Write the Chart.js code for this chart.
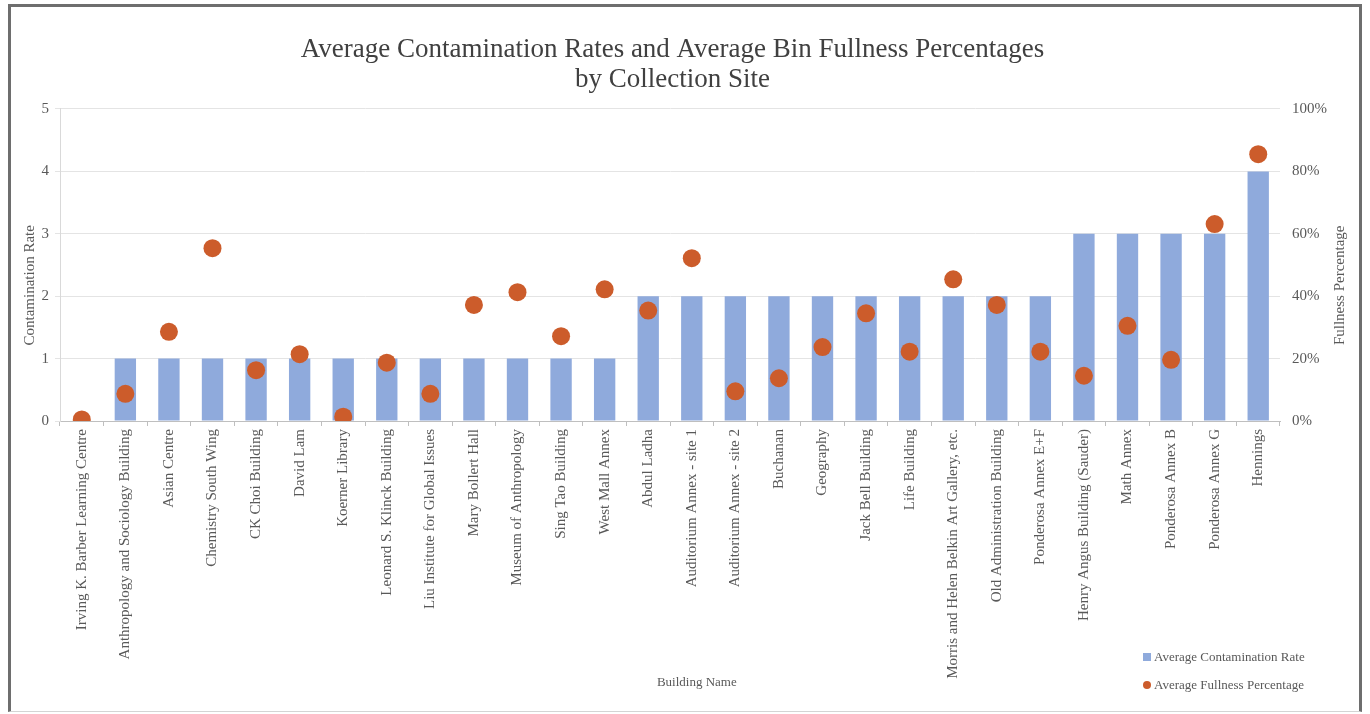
<!DOCTYPE html>
<html><head><meta charset="utf-8">
<script src="https://cdn.jsdelivr.net/npm/chart.js@4"></script>
<style>
html,body{margin:0;padding:0;background:#fff;}
#wrap{position:relative;width:1370px;height:714px;overflow:hidden;background:#fff;}
#frame{position:absolute;left:8px;top:4px;width:1348px;height:704px;border-left:3px solid #6e6e6e;border-top:3px solid #6e6e6e;border-right:3px solid #6e6e6e;border-bottom:1px solid #d4d4d4;pointer-events:none;}
.lg{position:absolute;left:1143px;font:13px "Liberation Serif",serif;color:#595959;white-space:nowrap;line-height:16px;}
.sw{display:inline-block;width:8px;height:8px;margin-right:3px;vertical-align:0px;}
</style>
</head><body>
<div id="wrap">
<canvas id="c" width="1370" height="714"></canvas>
<div id="frame"></div>
<div class="lg" style="top:649px"><span class="sw" style="background:#8FAADC"></span><span id="lg1"></span></div>
<div class="lg" style="top:677px"><span class="sw" style="background:#CC5C2B;border-radius:50%"></span><span id="lg2"></span></div>
</div>
<script>
const titleLines = ["Average Contamination Rates and Average Bin Fullness Percentages", "by Collection Site"];
const categories = ["Irving K. Barber Learning Centre","Anthropology and Sociology Building","Asian Centre","Chemistry South Wing","CK Choi Building","David Lam","Koerner Library","Leonard S. Klinck Building","Liu Institute for Global Issues","Mary Bollert Hall","Museum of Anthropology","Sing Tao Building","West Mall Annex","Abdul Ladha","Auditorium Annex - site 1","Auditorium Annex - site 2","Buchanan","Geography","Jack Bell Building","Life Building","Morris and Helen Belkin Art Gallery, etc.","Old Administration Building","Ponderosa Annex E+F","Henry Angus Building (Sauder)","Math Annex","Ponderosa Annex B","Ponderosa Annex G","Hennings"];
const contaminationRate = [0,1,1,1,1,1,1,1,1,1,1,1,1,2,2,2,2,2,2,2,2,2,2,3,3,3,3,4];
const fullnessPct = [0.5,8.7,28.6,55.4,16.3,21.4,1.4,18.7,8.7,37.2,41.3,27.2,42.2,35.4,52.2,9.5,13.7,23.7,34.5,22.2,45.4,37.2,22.2,14.5,30.5,19.6,63.1,85.5];
const seriesNames = ["Average Contamination Rate","Average Fullness Percentage"];
const xTitle = "Building Name";
const yTitle = "Contamination Rate";
const y1Title = "Fullness Percentage";

document.getElementById('lg1').textContent = seriesNames[0];
document.getElementById('lg2').textContent = seriesNames[1];

const FONT = '"Liberation Serif", "Times New Roman", serif';
const TXT = '#595959';

const axisTitles = {
  id: 'axisTitles',
  afterDraw(chart) {
    const ctx = chart.ctx;
    const ca = chart.chartArea;
    const cy = ca.top + (ca.bottom - ca.top) * 0.565;
    const vert = (text, x) => {
      ctx.save();
      ctx.fillStyle = TXT;
      ctx.font = '15px ' + FONT;
      ctx.textAlign = 'center';
      ctx.textBaseline = 'middle';
      ctx.translate(x, cy);
      ctx.rotate(-Math.PI / 2);
      ctx.fillText(text, 0, 0);
      ctx.restore();
    };
    vert(yTitle, 30);
    vert(y1Title, 1340);
    ctx.save();
    ctx.fillStyle = TXT;
    ctx.font = '13px ' + FONT;
    ctx.textAlign = 'center';
    ctx.textBaseline = 'middle';
    ctx.fillText(xTitle, ca.left + (ca.right - ca.left) * 0.522, 683);
    ctx.restore();
  }
};

new Chart(document.getElementById('c'), {
  data: {
    labels: categories,
    datasets: [
      {
        type: 'bar',
        label: seriesNames[0],
        data: contaminationRate,
        backgroundColor: '#8FAADC',
        borderWidth: 0,
        barPercentage: 0.49,
        categoryPercentage: 1.0,
        yAxisID: 'y',
        order: 1
      },
      {
        type: 'line',
        label: seriesNames[1],
        data: fullnessPct,
        showLine: false,
        pointRadius: 9,
        pointHoverRadius: 9,
        pointBackgroundColor: '#CC5C2B',
        pointBorderColor: '#CC5C2B',
        pointBorderWidth: 0,
        yAxisID: 'y1',
        order: 0
      }
    ]
  },
  options: {
    responsive: false,
    animation: false,
    devicePixelRatio: 1,
    layout: { padding: { top: 0, left: 0, right: 25, bottom: 10 } },
    plugins: {
      legend: { display: false },
      tooltip: { enabled: false },
      title: {
        display: true,
        text: titleLines,
        color: '#404040',
        font: { family: FONT, size: 27, weight: 'normal', lineHeight: 1.111 },
        padding: { top: 35, bottom: 14 }
      }
    },
    scales: {
      x: {
        grid: { display: true, drawOnChartArea: false, drawTicks: true, tickLength: 5, color: '#BFBFBF', offset: true },
        border: { display: true, color: '#BFBFBF' },
        ticks: { autoSkip: false, maxRotation: 90, minRotation: 90, padding: 3, color: TXT, font: { family: FONT, size: 15 } },
        title: { display: false, text: xTitle },
        afterFit(s) { s.height = 283; }
      },
      y: {
        position: 'left',
        min: 0, max: 5,
        ticks: { stepSize: 1, padding: 6, color: TXT, font: { family: FONT, size: 15 } },
        grid: { color: '#E4E4E4', drawTicks: true, tickLength: 5 },
        border: { display: true, color: '#D9D9D9' },
        afterFit(s) { s.width = 60; }
      },
      y1: {
        position: 'right',
        min: 0, max: 100,
        ticks: { stepSize: 20, padding: 12, color: TXT, font: { family: FONT, size: 15 }, callback: v => v + '%' },
        grid: { display: false, drawTicks: false, drawOnChartArea: false },
        border: { display: false },
        afterFit(s) { s.width = 65; }
      }
    }
  },
  plugins: [axisTitles]
});
</script>
</body></html>
